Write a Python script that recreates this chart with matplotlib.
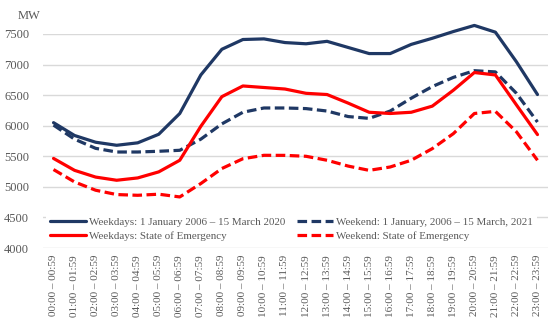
import matplotlib
matplotlib.use("Agg")
import matplotlib.pyplot as plt

hours = [f"{h:02d}:00 \u2013 {h:02d}:59" for h in range(24)]

weekdays_base = [6050, 5840, 5730, 5680, 5720, 5860, 6200, 6830, 7250, 7410, 7420, 7360,
                 7340, 7380, 7280, 7180, 7180, 7330, 7430, 7540, 7640, 7530, 7045, 6510]
weekend_base = [6010, 5780, 5630, 5570, 5570, 5582, 5598, 5780, 6030, 6220, 6290, 6290,
                6280, 6240, 6150, 6120, 6240, 6450, 6640, 6790, 6900, 6880, 6530, 6060]
weekdays_soe = [5465, 5270, 5160, 5108, 5146, 5245, 5435, 5990, 6475, 6650, 6625, 6600,
                6530, 6510, 6370, 6220, 6200, 6220, 6320, 6580, 6870, 6830, 6340, 5855]
weekend_soe = [5283, 5080, 4945, 4874, 4862, 4880, 4835, 5054, 5300, 5460, 5516, 5515,
               5500, 5435, 5340, 5270, 5325, 5435, 5625, 5870, 6200, 6235, 5900, 5435]

labels = ["Weekdays: 1 January 2006 \u2013 15 March 2020",
          "Weekend: 1 January, 2006 \u2013 15 March, 2021",
          "Weekdays: State of Emergency",
          "Weekend: State of Emergency"]

navy = "#1F3864"
red = "#FF0000"
grey_text = "#595959"

plt.rcParams['font.family'] = ['Liberation Serif', 'DejaVu Serif']

fig = plt.figure(figsize=(5.5, 3.27), dpi=100)
ax = fig.add_axes([43/550, 1-248/327, 505/550, (248-34)/327])

x = list(range(24))
lw = 2.3
dash = (0, (3, 1.4))
l1, = ax.plot(x, weekdays_base, color=navy, lw=lw, solid_capstyle='round', zorder=3, clip_on=False)
l3, = ax.plot(x, weekend_base, color=navy, lw=lw, ls=dash, zorder=3, clip_on=False)
l2, = ax.plot(x, weekdays_soe, color=red, lw=lw, solid_capstyle='round', zorder=3, clip_on=False)
l4, = ax.plot(x, weekend_soe, color=red, lw=lw, ls=dash, zorder=3, clip_on=False)

ax.set_xlim(-0.5, 23.5)
ax.set_ylim(4000, 7500)
ax.set_yticks(range(4000, 7501, 500))
ax.set_xticks(x)
ax.set_xticklabels(hours, rotation=90, fontsize=8, color=grey_text)
ax.tick_params(axis='y', labelsize=9, colors=grey_text, length=0, pad=10)
ax.tick_params(axis='x', length=0, pad=5)
ax.grid(axis='y', color='#D9D9D9', lw=1, zorder=0)
for s in ax.spines.values():
    s.set_visible(False)

fig.text(18/550, 1-16/327, "MW", fontsize=9, color=grey_text, va='center', ha='left')

# column-first fill: column 1 = Weekdays entries, column 2 = Weekend entries
leg = ax.legend([l1, l2, l3, l4], [labels[0], labels[2], labels[1], labels[3]],
                ncol=2, loc='lower left', bbox_to_anchor=(46/550, 1-245/327),
                bbox_transform=fig.transFigure,
                frameon=True, fontsize=7.9, handlelength=3.3,
                handletextpad=0.3, columnspacing=1.0, borderpad=0.35,
                labelspacing=0.45, borderaxespad=0.0)
leg.set_zorder(5)
leg.get_frame().set_edgecolor('none')
leg.get_frame().set_facecolor('white')
leg.get_frame().set_alpha(1)
for t in leg.get_texts():
    t.set_color(grey_text)

fig.savefig("out.png", dpi=100)
